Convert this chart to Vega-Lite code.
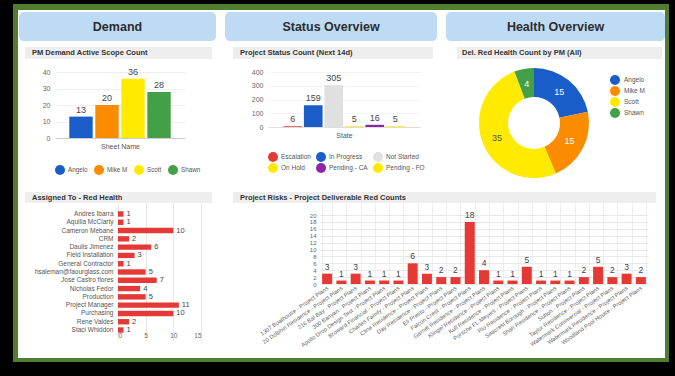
{
"$schema":"https://vega.github.io/schema/vega-lite/v6.json",
"background":"white","padding":0,"spacing":0,
"datasets":{"e":[{}]},
"config":{"view":{"stroke":null},"font":"Liberation Sans","point":{"size":1,"strokeWidth":0,"opacity":0}},
"vconcat":[
{"width":675,"height":4,"view":{"fill":"#000000"},"data":{"name":"e"},"mark":"point"},
{"hconcat":[
 {"width":13,"height":6,"view":{"fill":"#000000"},"data":{"name":"e"},"mark":"point"},
 {"width":656,"height":6,"view":{"fill":"#4f7d32"},"data":{"name":"e"},"mark":"point"},
 {"width":6,"height":6,"view":{"fill":"#000000"},"data":{"name":"e"},"mark":"point"}
],"bounds":"flush","spacing":0},
{"hconcat":[
 {"width":13,"height":2,"view":{"fill":"#000000"},"data":{"name":"e"},"mark":"point"},
 {"width":5,"height":2,"view":{"fill":"#4f7d32"},"data":{"name":"e"},"mark":"point"},
 {"width":647,"height":2,"data":{"name":"e"},"mark":"point"},
 {"width":4,"height":2,"view":{"fill":"#4f7d32"},"data":{"name":"e"},"mark":"point"},
 {"width":6,"height":2,"view":{"fill":"#000000"},"data":{"name":"e"},"mark":"point"}
],"bounds":"flush","spacing":0},
{"hconcat":[
 {"width":13,"height":29,"view":{"fill":"#000000"},"data":{"name":"e"},"mark":"point"},
 {"width":5,"height":29,"view":{"fill":"#4f7d32"},"data":{"name":"e"},"mark":"point"},
 {"width":1,"height":29,"data":{"name":"e"},"mark":"point"},
 {"width":197,"height":29,"view":{"fill":"#bedbf6","cornerRadius":5},"data":{"values":[{"t":"Demand"}]},"mark":{"type":"text","fontSize":12.5,"fontWeight":"bold","color":"#2d2d2d"},"encoding":{"text":{"field":"t"}}},
 {"width":9,"height":29,"data":{"name":"e"},"mark":"point"},
 {"width":212,"height":29,"view":{"fill":"#bedbf6","cornerRadius":5},"data":{"values":[{"t":"Status Overview"}]},"mark":{"type":"text","fontSize":12.5,"fontWeight":"bold","color":"#2d2d2d"},"encoding":{"text":{"field":"t"}}},
 {"width":9,"height":29,"data":{"name":"e"},"mark":"point"},
 {"width":219,"height":29,"view":{"fill":"#bedbf6","cornerRadius":5},"data":{"values":[{"t":"Health Overview"}]},"mark":{"type":"text","fontSize":12.5,"fontWeight":"bold","color":"#2d2d2d"},"encoding":{"text":{"field":"t"}}},
 {"width":4,"height":29,"view":{"fill":"#4f7d32"},"data":{"name":"e"},"mark":"point"},
 {"width":6,"height":29,"view":{"fill":"#000000"},"data":{"name":"e"},"mark":"point"}
],"bounds":"flush","spacing":0},
{"hconcat":[
 {"width":13,"height":6,"view":{"fill":"#000000"},"data":{"name":"e"},"mark":"point"},
 {"width":5,"height":6,"view":{"fill":"#4f7d32"},"data":{"name":"e"},"mark":"point"},
 {"width":647,"height":6,"data":{"name":"e"},"mark":"point"},
 {"width":4,"height":6,"view":{"fill":"#4f7d32"},"data":{"name":"e"},"mark":"point"},
 {"width":6,"height":6,"view":{"fill":"#000000"},"data":{"name":"e"},"mark":"point"}
],"bounds":"flush","spacing":0},
{"hconcat":[
 {"width":13,"height":12,"view":{"fill":"#000000"},"data":{"name":"e"},"mark":"point"},
 {"width":5,"height":12,"view":{"fill":"#4f7d32"},"data":{"name":"e"},"mark":"point"},
 {"width":7,"height":12,"data":{"name":"e"},"mark":"point"},
 {"width":187,"height":12,"view":{"fill":"#eeeeee"},"data":{"values":[{"t":"PM Demand Active Scope Count"}]},"mark":{"type":"text","align":"left","dx":7,"fontSize":7.5,"fontWeight":"bold","color":"#333333"},"encoding":{"text":{"field":"t"},"x":{"datum":0,"scale":{"domain":[0,1]},"axis":null}}},
 {"width":21,"height":12,"data":{"name":"e"},"mark":"point"},
 {"width":200,"height":12,"view":{"fill":"#eeeeee"},"data":{"values":[{"t":"Project Status Count (Next 14d)"}]},"mark":{"type":"text","align":"left","dx":7,"fontSize":7.5,"fontWeight":"bold","color":"#333333"},"encoding":{"text":{"field":"t"},"x":{"datum":0,"scale":{"domain":[0,1]},"axis":null}}},
 {"width":24,"height":12,"data":{"name":"e"},"mark":"point"},
 {"width":205,"height":12,"view":{"fill":"#eeeeee"},"data":{"values":[{"t":"Del. Red Health Count by PM (All)"}]},"mark":{"type":"text","align":"left","dx":5,"fontSize":7.5,"fontWeight":"bold","color":"#333333"},"encoding":{"text":{"field":"t"},"x":{"datum":0,"scale":{"domain":[0,1]},"axis":null}}},
 {"width":3,"height":12,"data":{"name":"e"},"mark":"point"},
 {"width":4,"height":12,"view":{"fill":"#4f7d32"},"data":{"name":"e"},"mark":"point"},
 {"width":6,"height":12,"view":{"fill":"#000000"},"data":{"name":"e"},"mark":"point"}
],"bounds":"flush","spacing":0},
{"hconcat":[
 {"width":13,"height":128,"view":{"fill":"#000000"},"data":{"name":"e"},"mark":"point"},
 {"width":5,"height":128,"view":{"fill":"#4f7d32"},"data":{"name":"e"},"mark":"point"},
 {"width":37,"height":128,"data":{"name":"e"},"mark":"point"},
 {"width":130,"height":79,
  "data":{"values":[{"pm":"Angelo","n":13},{"pm":"Mike M","n":20},{"pm":"Scott","n":36},{"pm":"Shawn","n":28}]},
  "encoding":{
   "x":{"field":"pm","type":"nominal","sort":null,"scale":{"paddingInner":0.1,"paddingOuter":0.55},"axis":{"labels":false,"ticks":false,"domainColor":"#cccccc","title":"Sheet Name","titleFontSize":7,"titleFontWeight":"normal","titleColor":"#555555","titlePadding":4}},
   "y":{"field":"n","type":"quantitative","scale":{"domain":[0,48]},"axis":{"values":[0,10,20,30,40],"title":null,"ticks":false,"domain":false,"labelFontSize":7,"labelColor":"#666666","gridColor":"#eeeeee","labelPadding":5}}
  },
  "layer":[
   {"mark":{"type":"bar"},"encoding":{"color":{"field":"pm","type":"nominal","scale":{"domain":["Angelo","Mike M","Scott","Shawn"],"range":["#1a5dc8","#fb8c00","#ffea00","#43a047"]},"legend":{"orient":"bottom","direction":"horizontal","title":null,"symbolType":"circle","symbolSize":100,"symbolStrokeWidth":0,"labelFontSize":6.3,"labelColor":"#555555","labelOffset":3,"offset":16,"columnPadding":6}}}},
   {"mark":{"type":"text","dy":-7,"fontSize":9,"color":"#444444"},"encoding":{"text":{"field":"n"}}}
  ]},
 {"width":83,"height":128,"data":{"name":"e"},"mark":"point"},
 {"width":152,"height":68,
  "data":{"values":[{"s":"Escalation","n":6},{"s":"In Progress","n":159},{"s":"Not Started","n":305},{"s":"On Hold","n":5},{"s":"Pending - CA","n":16},{"s":"Pending - FO","n":5}]},
  "encoding":{
   "x":{"field":"s","type":"nominal","sort":null,"scale":{"paddingInner":0.09,"paddingOuter":0.75},"axis":{"labels":false,"ticks":false,"domainColor":"#dddddd","title":"State","titleFontSize":7,"titleFontWeight":"normal","titleColor":"#555555","titlePadding":4}},
   "y":{"field":"n","type":"quantitative","scale":{"domain":[0,495]},"axis":{"values":[0,100,200,300,400],"title":null,"ticks":false,"domain":false,"labelFontSize":7,"labelColor":"#666666","gridColor":"#f4f4f4","labelPadding":5}}
  },
  "layer":[
   {"mark":{"type":"bar"},"encoding":{"color":{"field":"s","type":"nominal","scale":{"domain":["Escalation","In Progress","Not Started","On Hold","Pending - CA","Pending - FO"],"range":["#e53935","#1a5dc8","#e0e0e0","#ffea00","#8e24aa","#ffea00"]},"legend":{"orient":"bottom","direction":"horizontal","columns":3,"title":null,"symbolType":"circle","symbolSize":100,"symbolStrokeWidth":0,"labelFontSize":6.5,"labelColor":"#555555","labelOffset":3,"offset":14,"columnPadding":5,"rowPadding":1}}}},
   {"mark":{"type":"text","dy":-7,"fontSize":9,"color":"#444444"},"encoding":{"text":{"field":"n"}}}
  ]},
 {"width":56,"height":128,"data":{"name":"e"},"mark":"point"},
 {"width":116,"height":128,
  "data":{"values":[{"pm":"Angelo","n":15},{"pm":"Mike M","n":15},{"pm":"Scott","n":35},{"pm":"Shawn","n":4}]},
  "encoding":{"theta":{"field":"n","type":"quantitative","stack":true},"order":{"field":"pm","type":"ordinal","sort":"ascending"}},
  "layer":[
   {"mark":{"type":"arc","outerRadius":55,"innerRadius":26},"encoding":{"color":{"field":"pm","type":"nominal","scale":{"domain":["Angelo","Mike M","Scott","Shawn"],"range":["#1a5dc8","#fb8c00","#ffea00","#43a047"]},"legend":{"orient":"right","title":null,"symbolType":"circle","symbolSize":100,"labelFontSize":6.5,"labelColor":"#555555","labelOffset":3,"offset":2,"padding":15,"rowPadding":0}}}},
   {"mark":{"type":"text","radius":40,"fontSize":9},"encoding":{"text":{"field":"n"},"detail":{"field":"pm"},"color":{"condition":{"test":"datum.pm === 'Scott'","value":"#555555"},"value":"#ffffff"}}}
  ]},
 {"width":73,"height":128,"data":{"name":"e"},"mark":"point"},
 {"width":4,"height":128,"view":{"fill":"#4f7d32"},"data":{"name":"e"},"mark":"point"},
 {"width":6,"height":128,"view":{"fill":"#000000"},"data":{"name":"e"},"mark":"point"}
],"bounds":"flush","spacing":0,"resolve":{"scale":{"color":"independent"},"legend":{"color":"independent"}}},
{"hconcat":[
 {"width":13,"height":5,"view":{"fill":"#000000"},"data":{"name":"e"},"mark":"point"},
 {"width":5,"height":5,"view":{"fill":"#4f7d32"},"data":{"name":"e"},"mark":"point"},
 {"width":647,"height":5,"data":{"name":"e"},"mark":"point"},
 {"width":4,"height":5,"view":{"fill":"#4f7d32"},"data":{"name":"e"},"mark":"point"},
 {"width":6,"height":5,"view":{"fill":"#000000"},"data":{"name":"e"},"mark":"point"}
],"bounds":"flush","spacing":0},
{"hconcat":[
 {"width":13,"height":11,"view":{"fill":"#000000"},"data":{"name":"e"},"mark":"point"},
 {"width":5,"height":11,"view":{"fill":"#4f7d32"},"data":{"name":"e"},"mark":"point"},
 {"width":7,"height":11,"data":{"name":"e"},"mark":"point"},
 {"width":187,"height":11,"view":{"fill":"#eeeeee"},"data":{"values":[{"t":"Assigned To - Red Health"}]},"mark":{"type":"text","align":"left","dx":7,"fontSize":7.5,"fontWeight":"bold","color":"#333333"},"encoding":{"text":{"field":"t"},"x":{"datum":0,"scale":{"domain":[0,1]},"axis":null}}},
 {"width":21,"height":11,"data":{"name":"e"},"mark":"point"},
 {"width":423,"height":11,"view":{"fill":"#eeeeee"},"data":{"values":[{"t":"Project Risks - Project Deliverable Red Counts"}]},"mark":{"type":"text","align":"left","dx":7,"fontSize":7.5,"fontWeight":"bold","color":"#333333"},"encoding":{"text":{"field":"t"},"x":{"datum":0,"scale":{"domain":[0,1]},"axis":null}}},
 {"width":9,"height":11,"data":{"name":"e"},"mark":"point"},
 {"width":4,"height":11,"view":{"fill":"#4f7d32"},"data":{"name":"e"},"mark":"point"},
 {"width":6,"height":11,"view":{"fill":"#000000"},"data":{"name":"e"},"mark":"point"}
],"bounds":"flush","spacing":0},
{"hconcat":[
 {"width":13,"height":155,"view":{"fill":"#000000"},"data":{"name":"e"},"mark":"point"},
 {"width":5,"height":155,"view":{"fill":"#4f7d32"},"data":{"name":"e"},"mark":"point"},
 {"width":100,"height":155,"data":{"name":"e"},"mark":"point"},
 {"width":83,"height":138,
  "data":{"values":[{"who":"Andres Ibarra","n":1},{"who":"Aquilia McClarty","n":1},{"who":"Cameron Mebane","n":10},{"who":"CRM","n":2},{"who":"Daulis Jimenez","n":6},{"who":"Field Installation","n":3},{"who":"General Contractor","n":1},{"who":"hsaleman@faourglass.com","n":5},{"who":"Jose Castro flores","n":7},{"who":"Nicholas Fedor","n":4},{"who":"Production","n":5},{"who":"Project Manager","n":11},{"who":"Purchasing","n":10},{"who":"Rene Valdes","n":2},{"who":"Staci Whiddon","n":1}]},
  "encoding":{
   "y":{"field":"who","type":"nominal","sort":null,"scale":{"paddingInner":0.35,"paddingOuter":1.9},"axis":{"title":null,"ticks":false,"domain":false,"labelFontSize":6.5,"labelColor":"#555555","labelPadding":5}},
   "x":{"field":"n","type":"quantitative","scale":{"domain":[0,15]},"axis":{"values":[0,5,10,15],"title":null,"ticks":false,"domain":false,"offset":-12,"labelFontSize":6.5,"labelColor":"#666666","gridColor":"#e8e8e8","labelPadding":3}}
  },
  "layer":[
   {"mark":{"type":"bar","color":"#e53935"}},
   {"mark":{"type":"text","align":"left","dx":3,"fontSize":7.5,"color":"#444444"},"encoding":{"text":{"field":"n"}}}
  ]},
 {"width":119,"height":155,"data":{"name":"e"},"mark":"point"},
 {"width":328,"height":81,
  "data":{"values":[{"p":"1307 Boathouse - Project Plans","n":3},{"p":"20 Dolphin Residence - Project Plans","n":1},{"p":"216 Bal Bay - Project Plans","n":3},{"p":"300 Banyan - Project Plans","n":1},{"p":"Apollo Drop Design Test - Project Plans","n":1},{"p":"Broward Financial - Project Plans","n":1},{"p":"Charles Family - Project Plans","n":6},{"p":"Cline Residence - Project Plans","n":3},{"p":"Day Residence - Project Plans","n":2},{"p":"Eli Presto - Project Plans","n":2},{"p":"Falcon Crest - Project Plans","n":18},{"p":"Garnet Residence - Project Plans","n":4},{"p":"Klingel Residence - Project Plans","n":1},{"p":"Kull Residence - Project Plans","n":1},{"p":"Porsche Ft. Meyers - Project Plans","n":5},{"p":"Rio Residence - Project Plans","n":1},{"p":"Seacrest Borough - Project Plans","n":1},{"p":"Shah Residence - Project Plans","n":1},{"p":"Sutton - Project Plans","n":2},{"p":"Taylor Residence - Project Plans","n":5},{"p":"Watermark Commercial - Project Plans","n":2},{"p":"Watermark Residence - Project Plans","n":3},{"p":"Woodland Pool House - Project Plans","n":2}]},
  "encoding":{
   "x":{"field":"p","type":"nominal","sort":null,"scale":{"paddingInner":0.3,"paddingOuter":0.15},"axis":{"title":null,"ticks":false,"domain":false,"labelAngle":-35,"labelAlign":"right","labelBaseline":"middle","labelFontSize":5.8,"labelColor":"#666666","labelPadding":3,"grid":true,"tickBand":"extent","gridColor":"#eeeeee"}},
   "y":{"field":"n","type":"quantitative","scale":{"domain":[0,23.5]},"axis":{"values":[0,2,4,6,8,10,12,14,16,18,20],"title":null,"ticks":false,"domain":false,"labelFontSize":6,"labelColor":"#666666","gridColor":"#e8e8e8","labelPadding":4}}
  },
  "layer":[
   {"mark":{"type":"bar","color":"#e53935"}},
   {"mark":{"type":"text","dy":-7,"fontSize":8.5,"color":"#444444"},"encoding":{"text":{"field":"n"}}}
  ]},
 {"width":17,"height":155,"data":{"name":"e"},"mark":"point"},
 {"width":4,"height":155,"view":{"fill":"#4f7d32"},"data":{"name":"e"},"mark":"point"},
 {"width":6,"height":155,"view":{"fill":"#000000"},"data":{"name":"e"},"mark":"point"}
],"bounds":"flush","spacing":0},
{"hconcat":[
 {"width":13,"height":4,"view":{"fill":"#000000"},"data":{"name":"e"},"mark":"point"},
 {"width":656,"height":4,"view":{"fill":"#4f7d32"},"data":{"name":"e"},"mark":"point"},
 {"width":6,"height":4,"view":{"fill":"#000000"},"data":{"name":"e"},"mark":"point"}
],"bounds":"flush","spacing":0},
{"width":675,"height":14,"view":{"fill":"#000000"},"data":{"name":"e"},"mark":"point"}
]
}
